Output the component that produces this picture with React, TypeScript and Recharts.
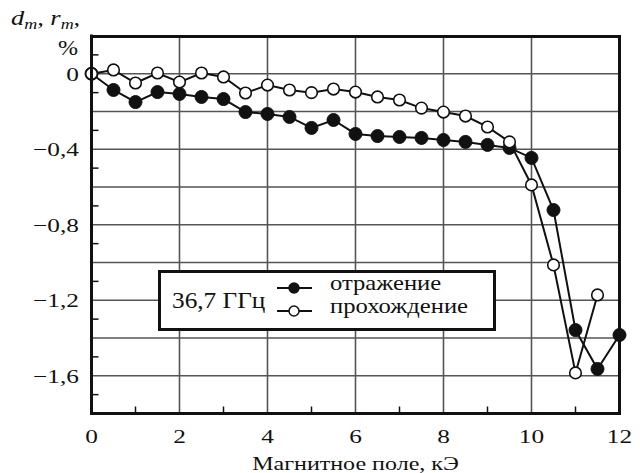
import React from 'react'
import { Legend, Line, LineChart, ReferenceLine, XAxis, YAxis } from 'recharts'

// Magnetic field, kOe
const field = [0, 0.5, 1, 1.5, 2, 2.5, 3, 3.5, 4, 4.5, 5, 5.5, 6, 6.5, 7, 7.5, 8, 8.5, 9, 9.5, 10, 10.5, 11, 11.5, 12]

// d_m, %  (filled markers)
const reflection = [
  0, -0.086, -0.15, -0.097, -0.107, -0.123, -0.134, -0.203, -0.213, -0.229, -0.287, -0.245, -0.319,
  -0.33, -0.335, -0.34, -0.351, -0.361, -0.377, -0.393, -0.446, -0.722, -1.358, -1.564, -1.384,
]

// r_m, %  (open markers)
const transmission = [
  0, 0.02, -0.049, 0.004, -0.044, 0.004, -0.017, -0.102, -0.06, -0.086, -0.1, -0.081, -0.097,
  -0.123, -0.139, -0.182, -0.203, -0.224, -0.282, -0.361, -0.589, -1.013, -1.585, -1.172, null,
]

const xDomain = [0, 12]
const yDomain = [-1.8, 0.2]

const xTicks = [0, 1, 2, 3, 4, 5, 6, 7, 8, 9, 10, 11, 12]
const xLabelTicks = [0, 2, 4, 6, 8, 10, 12]
const xGrid = [2, 4, 6, 8, 10]

const yLabelTicks = [0, -0.4, -0.8, -1.2, -1.6]
const yGrid = [0, -0.2, -0.4, -0.6, -0.8, -1.0, -1.2, -1.4, -1.6]
const yMinorTicks = [0.1, -0.1, -0.3, -0.5, -0.7, -0.9, -1.1, -1.3, -1.5, -1.7]

const frequencyLabel = '36,7 ГГц'
const xTitle = 'Магнитное поле, кЭ'

const data = field.map((f, i) => ({
  field: f,
  reflection: reflection[i],
  transmission: transmission[i],
}))

const CHART_W = 640
const CHART_H = 473
const MARGIN = { top: 36, right: 20.5, bottom: 0, left: 0 }
const Y_AXIS_W = 91.5
const X_AXIS_H = 59.5

// plot box, derived from the chart layout above
const PLOT = {
  left: MARGIN.left + Y_AXIS_W,
  right: CHART_W - MARGIN.right,
  top: MARGIN.top,
  bottom: CHART_H - MARGIN.bottom - X_AXIS_H,
}

const FONT = '"Liberation Serif", "Times New Roman", serif'
const INK = '#111'
const STRETCH = 1.3
const FRAME = 3
const frameLine = { stroke: INK, strokeWidth: FRAME, strokeLinecap: 'square' as const }

const has = (list: number[], v: number) => list.some((t) => Math.abs(t - v) < 1e-6)
const fmt = (v: number) =>
  Math.abs(v) < 1e-9 ? '0' : (v < 0 ? '\u2212' : '') + Math.abs(v).toFixed(1).replace('.', ',')

function XTick(props: any) {
  const { x, y, payload } = props
  const v = payload.value
  if (has(xLabelTicks, v)) {
    return (
      <text
        transform={`translate(${x},${y + 29.5}) scale(${STRETCH},1)`}
        textAnchor="middle"
        fontFamily={FONT}
        fontSize={19.5}
        fill={INK}
      >
        {v}
      </text>
    )
  }
  return <line x1={x} x2={x} y1={y} y2={y - 7} stroke={INK} strokeWidth={1.5} />
}

function YTick(props: any) {
  const { x, y, payload } = props
  const v = payload.value
  if (has(yLabelTicks, v)) {
    return (
      <text
        transform={`translate(${x - 12.5},${y + 6.8}) scale(${STRETCH},1)`}
        textAnchor="end"
        fontFamily={FONT}
        fontSize={19.5}
        fill={INK}
      >
        {fmt(v)}
      </text>
    )
  }
  if (has(yMinorTicks, v)) {
    return <line x1={x} x2={x + 7} y1={y} y2={y} stroke={INK} strokeWidth={1.5} />
  }
  return <g />
}

function YTitle() {
  const { top } = PLOT
  return (
    <g fontFamily={FONT} fill={INK}>
      <text transform={`translate(11,${top - 11}) scale(1.2,1)`} fontSize={22} fontStyle="italic">
        d
        <tspan dy={4} fontSize={15}>m</tspan>
        <tspan dy={-4}>, r</tspan>
        <tspan dy={4} fontSize={15}>m</tspan>
        <tspan dy={-4}>,</tspan>
      </text>
      <text transform={`translate(78,${top + 19}) scale(1.2,1)`} textAnchor="end" fontSize={20}>
        %
      </text>
    </g>
  )
}

function XTitle() {
  return (
    <text
      transform={`translate(${(PLOT.left + PLOT.right) / 2},${PLOT.bottom + 56.5}) scale(${STRETCH},1)`}
      textAnchor="middle"
      fontFamily={FONT}
      fontSize={18.5}
      fill={INK}
    >
      {xTitle}
    </text>
  )
}

const markerStyle: Record<string, { fill: string }> = {
  reflection: { fill: INK },
  transmission: { fill: '#fff' },
}

function LegendBox(props: any) {
  const payload = props.payload || []
  return (
    <svg width={338} height={61} style={{ display: 'block' }}>
      <rect x={1.5} y={1.5} width={335} height={58} fill="#fff" stroke={INK} strokeWidth={3} />
      <text transform={`translate(14,38) scale(1.1,1)`} fontFamily={FONT} fontSize={23} fill={INK}>
        {frequencyLabel}
      </text>
      {payload.map((entry: any, i: number) => {
        const key = entry.dataKey || (i === 0 ? 'reflection' : 'transmission')
        const cy = i === 0 ? 18 : 41
        return (
          <g key={key}>
            <line x1={119} x2={154} y1={cy} y2={cy} stroke={INK} strokeWidth={2} />
            <circle cx={136} cy={cy} r={5} fill={markerStyle[key]?.fill ?? INK} stroke={INK} strokeWidth={1.5} />
            <text
              transform={`translate(172,${cy + 1.5}) scale(1.12,1)`}
              fontFamily={FONT}
              fontSize={22}
              fill={INK}
            >
              {entry.value}
            </text>
          </g>
        )
      })}
    </svg>
  )
}

export default function App() {
  return (
    <div style={{ position: 'absolute', left: 0, top: 0, width: CHART_W, height: CHART_H, background: '#fff' }}>
      <LineChart width={CHART_W} height={CHART_H} data={data} margin={MARGIN}>
        {xGrid.map((v) => (
          <ReferenceLine key={`gx${v}`} x={v} stroke="#555" strokeWidth={1.6} />
        ))}
        {yGrid.map((v) => (
          <ReferenceLine key={`gy${v}`} y={v} stroke="#555" strokeWidth={1.6} />
        ))}
        <XAxis
          dataKey="field"
          type="number"
          domain={xDomain}
          ticks={xTicks}
          interval={0}
          height={X_AXIS_H}
          tickSize={0}
          tickMargin={0}
          tickLine={false}
          axisLine={frameLine}
          tick={<XTick />}
          label={<XTitle />}
        />
        <YAxis
          type="number"
          domain={yDomain}
          ticks={[...yMinorTicks, ...yGrid].sort((a, b) => a - b)}
          interval={0}
          width={Y_AXIS_W}
          tickSize={0}
          tickMargin={0}
          tickLine={false}
          axisLine={frameLine}
          tick={<YTick />}
          label={<YTitle />}
        />
        <Line
          type="linear"
          dataKey="reflection"
          name="отражение"
          stroke={INK}
          strokeWidth={2}
          dot={{ r: 6.5, fill: INK, stroke: INK, strokeWidth: 1 }}
          activeDot={false}
          isAnimationActive={false}
        />
        <Line
          type="linear"
          dataKey="transmission"
          name="прохождение"
          stroke={INK}
          strokeWidth={2}
          dot={{ r: 5.8, fill: '#fff', stroke: INK, strokeWidth: 1.6 }}
          activeDot={false}
          isAnimationActive={false}
        />
        <Legend
          layout="horizontal"
          verticalAlign="middle"
          align="center"
          content={<LegendBox />}
          wrapperStyle={{ left: 158, top: 270, width: 338, height: 61, bottom: 'auto' }}
        />
      </LineChart>
      {/* plot frame drawn over the markers, like the printed figure */}
      <div
        style={{
          position: 'absolute',
          left: PLOT.left - FRAME / 2,
          top: PLOT.top - FRAME / 2,
          width: PLOT.right - PLOT.left + FRAME,
          height: PLOT.bottom - PLOT.top + FRAME,
          border: `${FRAME}px solid ${INK}`,
          boxSizing: 'border-box',
          pointerEvents: 'none',
        }}
      />
    </div>
  )
}
